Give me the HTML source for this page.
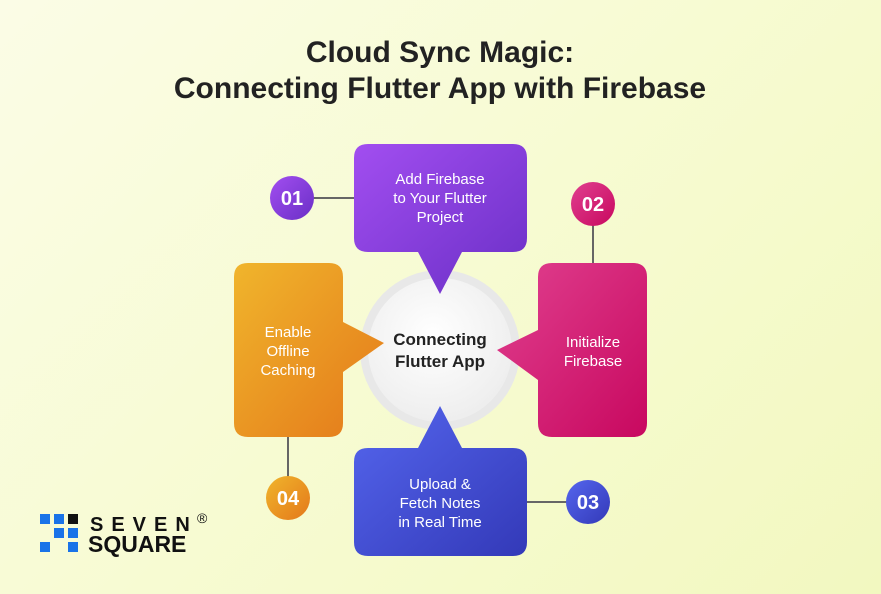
<!DOCTYPE html>
<html><head><style>
body{margin:0;width:881px;height:594px;overflow:hidden;background:linear-gradient(135deg,#fbfce6 0%,#f7fbd2 50%,#f2f8c0 100%);font-family:"Liberation Sans",sans-serif;}
</style></head><body>
<svg width="881" height="594" xmlns="http://www.w3.org/2000/svg" style="position:absolute;left:0;top:0">
<defs>
<linearGradient id="gp" x1="0" y1="0" x2="1" y2="1"><stop offset="0" stop-color="#a24ef0"/><stop offset="1" stop-color="#6a2fc6"/></linearGradient>
<linearGradient id="gm" x1="0" y1="0" x2="1" y2="1"><stop offset="0" stop-color="#e0408f"/><stop offset="1" stop-color="#c8085f"/></linearGradient>
<linearGradient id="gb" x1="0" y1="0" x2="1" y2="1"><stop offset="0" stop-color="#5566ee"/><stop offset="1" stop-color="#3339b8"/></linearGradient>
<linearGradient id="go" x1="0" y1="0" x2="1" y2="1"><stop offset="0" stop-color="#f0b52c"/><stop offset="1" stop-color="#e4781a"/></linearGradient>
<radialGradient id="gc" cx="0.45" cy="0.4" r="0.6"><stop offset="0" stop-color="#ffffff"/><stop offset="1" stop-color="#eeeeee"/></radialGradient>
</defs>
<text x="440" y="62" text-anchor="middle" font-family="Liberation Sans" font-weight="bold" font-size="30" fill="#222">Cloud Sync Magic:</text>
<text x="440" y="98" text-anchor="middle" font-family="Liberation Sans" font-weight="bold" font-size="30" fill="#222">Connecting Flutter App with Firebase</text>
<g stroke="#666" stroke-width="2">
<line x1="312" y1="198" x2="356" y2="198"/>
<line x1="593" y1="224" x2="593" y2="265"/>
<line x1="525" y1="502" x2="568" y2="502"/>
<line x1="288" y1="435" x2="288" y2="478"/>
</g>
<circle cx="440" cy="350" r="80" fill="#e8e8e8"/>
<circle cx="440" cy="350" r="72" fill="url(#gc)"/>
<path d="M368 144 H513 Q527 144 527 158 V238 Q527 252 513 252 H462 L440 294 L418 252 H368 Q354 252 354 238 V158 Q354 144 368 144Z" fill="url(#gp)"/>
<path d="M552 263 H633 Q647 263 647 277 V423 Q647 437 633 437 H552 Q538 437 538 423 V380 L497 350 L538 330 V277 Q538 263 552 263Z" fill="url(#gm)"/>
<path d="M368 448 H418 L440 406 L462 448 H513 Q527 448 527 462 V542 Q527 556 513 556 H368 Q354 556 354 542 V462 Q354 448 368 448Z" fill="url(#gb)"/>
<path d="M248 263 H329 Q343 263 343 277 V322 L384 343 L343 372 V423 Q343 437 329 437 H248 Q234 437 234 423 V277 Q234 263 248 263Z" fill="url(#go)"/>
<circle cx="292" cy="198" r="22" fill="url(#gp)"/>
<circle cx="593" cy="204" r="22" fill="url(#gm)"/>
<circle cx="588" cy="502" r="22" fill="url(#gb)"/>
<circle cx="288" cy="498" r="22" fill="url(#go)"/>
<g font-family="Liberation Sans" font-weight="bold" font-size="20" fill="#fff" text-anchor="middle">
<text x="292" y="205">01</text><text x="593" y="211">02</text><text x="588" y="509">03</text><text x="288" y="505">04</text>
</g>
<g font-family="Liberation Sans" font-size="15" fill="#fff" text-anchor="middle">
<text x="440" y="184">Add Firebase</text><text x="440" y="203">to Your Flutter</text><text x="440" y="222">Project</text>
<text x="593" y="347">Initialize</text><text x="593" y="366">Firebase</text>
<text x="440" y="489">Upload &amp;</text><text x="440" y="508">Fetch Notes</text><text x="440" y="527">in Real Time</text>
<text x="288" y="337">Enable</text><text x="288" y="356">Offline</text><text x="288" y="375">Caching</text>
</g>
<g font-family="Liberation Sans" font-weight="bold" font-size="17" fill="#222" text-anchor="middle">
<text x="440" y="345">Connecting</text><text x="440" y="367">Flutter App</text>
</g>
<g fill="#1a73e8">
<rect x="40" y="514" width="10" height="10"/><rect x="54" y="514" width="10" height="10"/><rect x="68" y="514" width="10" height="10" fill="#111"/>
<rect x="54" y="528" width="10" height="10"/><rect x="68" y="528" width="10" height="10"/>
<rect x="40" y="542" width="10" height="10"/><rect x="68" y="542" width="10" height="10"/>
</g>
<text x="90" y="531" font-family="Liberation Sans" font-weight="bold" font-size="20" fill="#111" letter-spacing="8">SEVEN</text>
<text x="197" y="523" font-family="Liberation Sans" font-size="14" fill="#111">®</text>
<text x="88" y="552" font-family="Liberation Sans" font-weight="bold" font-size="23" fill="#111">SQUARE</text>
</svg>
</body></html>
